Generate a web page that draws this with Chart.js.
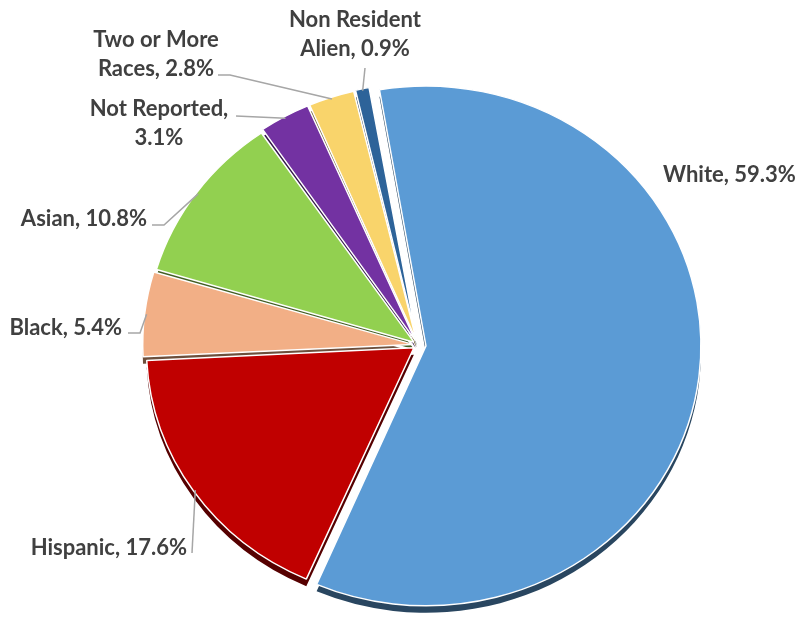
<!DOCTYPE html>
<html><head><meta charset="utf-8">
<script src="https://cdn.jsdelivr.net/npm/chart.js@4.4.1/dist/chart.umd.min.js"></script>
<style>html,body{margin:0;padding:0;background:#fff;}#wrap{width:799px;height:624px;}</style>
</head><body><div id="wrap"><canvas id="c" width="799" height="624"></canvas></div>
<script>
// ---- data ----
const categories = ['White', 'Hispanic', 'Black', 'Asian', 'Not Reported', 'Two or More Races', 'Non Resident Alien'];
const shares = [59.3, 17.6, 5.4, 10.8, 3.1, 2.8, 0.9];
const firstLineWords = [0, 0, 0, 0, 2, 3, 2]; // 0 = single line

// ---- style ----
const colors = ['#5B9BD5', '#C00000', '#F2AF86', '#92D050', '#7332A2', '#F9D46B', '#2D6399'];
const SY = 0.945, DEPTH = 7, LINE_H = 29;
function darken(hex, f) {
  const n = parseInt(hex.slice(1), 16);
  const r = Math.round(((n >> 16) & 255) * f), g = Math.round(((n >> 8) & 255) * f), b = Math.round((n & 255) * f);
  return 'rgb(' + r + ',' + g + ',' + b + ')';
}
const depthColors = colors.map(c => darken(c, 0.45));

const labelLines = categories.map((c, i) => {
  const full = c + ', ' + shares[i].toFixed(1) + '%';
  const k = firstLineWords[i];
  if (!k) return [full];
  const w = full.split(' ');
  return [w.slice(0, k).join(' '), w.slice(k).join(' ')];
});
const labelLayout = [
  {x: 663, y: 182, align: 'left'},
  {x: 187, y: 555, align: 'right', lead: [[192, 553]]},
  {x: 122, y: 335, align: 'right', lead: [[128, 333], [140, 333]]},
  {x: 147, y: 226, align: 'right', lead: [[152, 225], [164, 225]]},
  {x: 159, y: 116, align: 'center', lead: [[236, 116]]},
  {x: 156, y: 47, align: 'center', lead: [[218, 75], [230, 75]]},
  {x: 355, y: 27, align: 'center', lead: [[365, 68]]}
];

function arcPoint(arc) {
  const mid = (arc.startAngle + arc.endAngle) / 2;
  const t = (arc.options.offset || 0) / 4;
  const circ = arc.endAngle - arc.startAngle;
  const fix = 1 - Math.sin(Math.min(Math.PI, circ));
  const r = arc.outerRadius + t * fix + t - 2;
  return {x: arc.x + Math.cos(mid) * r, y: arc.y + Math.sin(mid) * r * SY};
}

const ellipsePlugin = {
  id: 'ellipse',
  beforeDatasetsDraw(chart) {
    const ctx = chart.ctx, meta = chart.getDatasetMeta(0);
    const cx = meta.data[0].x, cy = meta.data[0].y;
    ctx.save();
    ctx.translate(cx, cy); ctx.scale(1, SY); ctx.translate(-cx, -cy);
    meta.data.forEach((arc, i) => {
      const orig = arc.options;
      arc.options = Object.assign({}, orig, {backgroundColor: depthColors[i], borderColor: depthColors[i], borderWidth: 0});
      ctx.save(); ctx.translate(0, DEPTH / SY); arc.draw(ctx); ctx.restore();
      arc.options = orig;
    });
  },
  afterDatasetsDraw(chart) { chart.ctx.restore(); }
};

const labelPlugin = {
  id: 'pieLabels',
  afterDraw(chart) {
    const ctx = chart.ctx, meta = chart.getDatasetMeta(0);
    ctx.save();
    ctx.font = 'bold 22px Lato';
    ctx.fillStyle = '#404040';
    ctx.textBaseline = 'alphabetic';
    meta.data.forEach((arc, i) => {
      const L = labelLayout[i];
      ctx.textAlign = L.align;
      labelLines[i].forEach((t, k) => ctx.fillText(t, L.x, L.y + k * LINE_H));
      if (L.lead) {
        const p = arcPoint(arc);
        ctx.beginPath();
        ctx.strokeStyle = '#A6A6A6';
        ctx.lineWidth = 1.5;
        ctx.moveTo(L.lead[0][0], L.lead[0][1]);
        for (let k = 1; k < L.lead.length; k++) ctx.lineTo(L.lead[k][0], L.lead[k][1]);
        ctx.lineTo(p.x, p.y);
        ctx.stroke();
      }
    });
    ctx.restore();
  }
};

new Chart(document.getElementById('c'), {
  type: 'pie',
  data: {
    labels: categories,
    datasets: [{
      data: shares,
      backgroundColor: colors,
      borderColor: '#ffffff',
      borderWidth: 1.5,
      offset: [32, 20, 20, 20, 20, 20, 20],
      clip: false
    }]
  },
  options: {
    responsive: false,
    animation: false,
    events: [],
    rotation: -10,
    radius: 267,
    layout: {padding: {left: 37, right: 0, top: 66, bottom: 0}},
    plugins: {legend: {display: false}, tooltip: {enabled: false}}
  },
  plugins: [ellipsePlugin, labelPlugin]
});
</script>
</body></html>
